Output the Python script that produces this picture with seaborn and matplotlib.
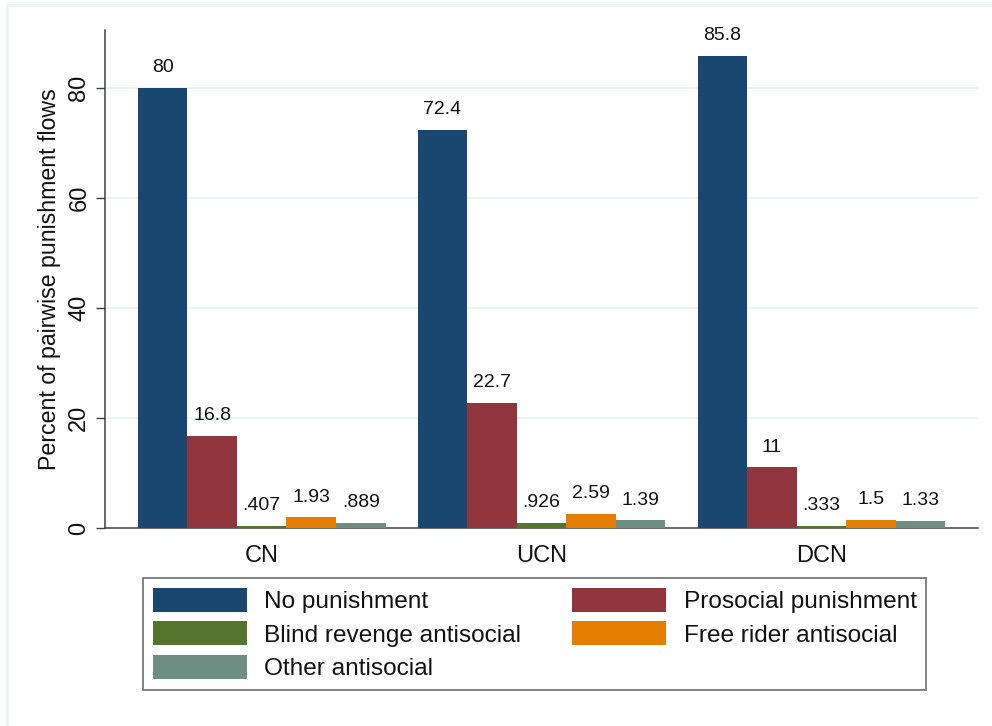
"""
Pairwise punishment flows by treatment (Stata-style grouped bar chart).
"""

import numpy as np
import pandas as pd
import matplotlib
matplotlib.use("Agg")
import matplotlib.pyplot as plt
from matplotlib.patches import Patch
from matplotlib.lines import Line2D
import seaborn as sns

CONDITIONS = ["CN", "UCN", "DCN"]
SERIES = [
    "No punishment",
    "Prosocial punishment",
    "Blind revenge antisocial",
    "Free rider antisocial",
    "Other antisocial",
]
NO_PUNISHMENT = [80.0, 72.4, 85.8]
PROSOCIAL = [16.8, 22.7, 11.0]
BLIND_REVENGE = [0.407, 0.926, 0.333]
FREE_RIDER = [1.93, 2.59, 1.5]
OTHER = [0.889, 1.39, 1.33]

# Stata s2color
COLORS = ["#1a476f", "#90353b", "#55752f", "#e37e00", "#6e8e84"]
GRID_COLOR = "#eaf2f3"
AXIS_COLOR = "#404040"


def stata_fmt(v):
    # mimic Stata's %9.3g (drop leading zero)
    s = f"{v:.3g}"
    if s.startswith("0."):
        s = s[1:]
    return s


def build_frame():
    rows = []
    for name, vals in zip(SERIES, [NO_PUNISHMENT, PROSOCIAL, BLIND_REVENGE, FREE_RIDER, OTHER]):
        for cond, v in zip(CONDITIONS, vals):
            rows.append({"condition": cond, "type": name, "percent": v})
    return pd.DataFrame(rows)


sns.set_theme(style="white")
plt.rcParams["font.family"] = ["Liberation Sans", "DejaVu Sans"]

df = build_frame()

fig = plt.figure(figsize=(9.92, 7.26), dpi=100)
ax = fig.add_axes([0.1058, 0.2727, 0.8802, 0.686])

sns.barplot(
    data=df, x="condition", y="percent", hue="type",
    order=CONDITIONS, hue_order=SERIES, palette=COLORS,
    width=0.885, saturation=1, linewidth=0, legend=False, ax=ax, zorder=3,
)

ax.set_xlim(-0.56, 2.56)
ax.set_ylim(0, 90.5)
ax.set_yticks([0, 20, 40, 60, 80])
for y in [20, 40, 60, 80]:
    ax.axhline(y, color=GRID_COLOR, linewidth=1.3, zorder=1)

# value labels
for container, name in zip(ax.containers, SERIES):
    vals = [p.get_height() for p in container]
    ax.bar_label(container, labels=[stata_fmt(v) for v in vals], padding=8.5,
                 fontsize=14, color="#111111", clip_on=False)

for side in ["top", "right"]:
    ax.spines[side].set_visible(False)
for side in ["left", "bottom"]:
    ax.spines[side].set_color(AXIS_COLOR)
    ax.spines[side].set_linewidth(1.1)

ax.tick_params(axis="y", length=6.5, width=1.0, color=AXIS_COLOR, pad=4,
               labelsize=17, labelcolor="#111111", labelrotation=90, left=True)
for lab in ax.get_yticklabels():
    lab.set_va("center")
ax.tick_params(axis="x", length=0, pad=12, labelsize=17, labelcolor="#111111")

ax.set_xlabel("")
ax.set_ylabel("Percent of pairwise punishment flows", fontsize=16.7, color="#111111")
ax.yaxis.set_label_coords(-0.05, 0.5)

# legend ordered row-wise like Stata (2 columns)
order = [0, 2, 4, 1, 3]
handles = [Patch(facecolor=COLORS[i], edgecolor="none") for i in order]
labels = [SERIES[i] for i in order]
leg = fig.legend(
    handles, labels, ncol=2, loc="upper left",
    bbox_to_anchor=(0.1442, 0.2039), bbox_transform=fig.transFigure,
    fontsize=17.6, frameon=True, fancybox=False, shadow=False,
    handlelength=3.85, handleheight=1.14, handletextpad=0.7,
    labelspacing=0.34, borderpad=0.4, borderaxespad=0, columnspacing=2.1,
)
leg.get_frame().set_edgecolor("#555555")
leg.get_frame().set_linewidth(1.3)
for t in leg.get_texts():
    t.set_color("#111111")

# faint outer graph-region border (top and left)
fig.add_artist(Line2D([0.007, 1.0], [0.993, 0.993], color="#eef3f4", linewidth=2,
                      transform=fig.transFigure))
fig.add_artist(Line2D([0.007, 0.007], [0.0, 0.993], color="#eef3f4", linewidth=2,
                      transform=fig.transFigure))

fig.savefig("out.png", dpi=100)
